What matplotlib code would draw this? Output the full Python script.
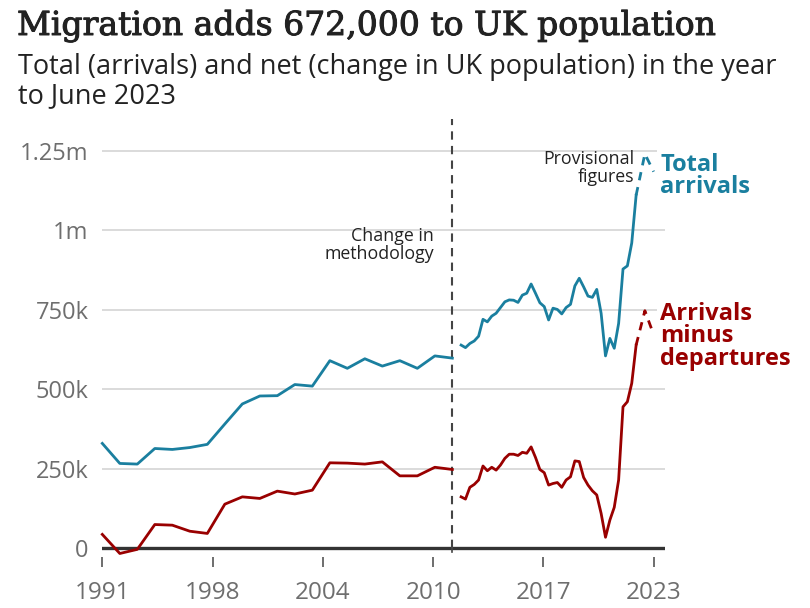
import numpy as np
import matplotlib
matplotlib.use("Agg")
import matplotlib.pyplot as plt
import matplotlib.patheffects as pe

# annual estimates (thousands), calendar years 1991-2011
years_annual = list(range(1991, 2012))
total_annual = [330, 267, 265, 314, 311, 317, 327, 391, 454, 479, 480,
                515, 510, 590, 566, 596, 573, 590, 566, 605, 598]
net_annual = [44, -16, -3, 75, 73, 54, 47, 139, 162, 157, 180,
              171, 183, 269, 268, 265, 272, 228, 228, 255, 248]

# rolling year estimates, quarterly (thousands)
total_q = [639, 631, 644, 652, 667, 720, 712, 730, 739, 757, 775, 781, 780,
           773, 796, 802, 831, 802, 772, 760, 718, 755, 751, 737, 757, 767,
           825, 849, 822, 793, 789, 814, 739, 605, 660, 629, 707, 878, 888,
           960, 1110]
net_q = [162, 155, 192, 201, 215, 259, 244, 255, 246, 262, 283, 296, 296,
         292, 302, 299, 319, 286, 248, 238, 199, 204, 207, 192, 215, 225,
         275, 273, 223, 199, 181, 168, 110, 35, 89, 129, 215, 445, 461,
         519, 639]

# provisional figures
total_prov = [1110, 1240, 1184]
net_prov = [639, 747, 672]

tick_labels = ["1991", "1998", "2004", "2010", "2017", "2023"]
y_ticks = [0, 250, 500, 750, 1000, 1250]
y_labels = ["0", "250k", "500k", "750k", "1m", "1.25m"]

x_q = 2011.5 + 0.25 * np.arange(len(total_q))
x_prov = [x_q[-1], x_q[-1] + 0.5, x_q[-1] + 1.0]

TEAL = "#1a7f9f"
RED = "#990000"
GREY = "#6e6e6e"
DARK = "#222222"

fig = plt.figure(figsize=(8.1, 6.08), dpi=100)
ax = fig.add_axes([0.1263, 0.0839, 0.6947, 0.7206])

lw = 2.0
ax.plot(years_annual, total_annual, color=TEAL, lw=lw, clip_on=False, zorder=3)
ax.plot(years_annual, net_annual, color=RED, lw=lw, clip_on=False, zorder=3)
ax.plot(x_q, total_q, color=TEAL, lw=lw, clip_on=False, zorder=3)
ax.plot(x_q, net_q, color=RED, lw=lw, clip_on=False, zorder=3)
ax.plot(x_prov, total_prov, color=TEAL, lw=lw, ls=(0, (3, 2.5)), clip_on=False, zorder=3)
ax.plot(x_prov, net_prov, color=RED, lw=lw, ls=(0, (3, 2.5)), clip_on=False, zorder=3)

ax.set_xlim(1991, 2023.15)
ax.set_ylim(-27, 1350)

for y in y_ticks[1:]:
    ax.axhline(y, color="#d4d4d4", lw=1.2, zorder=1)
ax.axhline(0, color="#333333", lw=2.4, zorder=2)

# change in methodology
ax.vlines(2011, 0, 1350, colors="#444444", lw=1.5, linestyles=(0, (4, 3)), zorder=2)
ax.plot([2011, 2011], [0, -12], color="#444444", lw=1.2, zorder=2)

for s in ax.spines.values():
    s.set_visible(False)

ax.set_yticks(y_ticks)
ax.set_yticklabels(y_labels)
ax.set_xticks(np.linspace(1991, 2022.5, 6))
ax.set_xticklabels(tick_labels)
ax.tick_params(axis="y", length=0, pad=10, labelsize=17, labelcolor=GREY)
ax.tick_params(axis="x", length=7, width=1.2, color="#555555", pad=10,
               labelsize=17.5, labelcolor=GREY)
for t in ax.get_xticklabels() + ax.get_yticklabels():
    t.set_fontfamily("Open Sans")

ax.text(2009.95, 1010, "Change in\nmethodology", ha="right", va="top",
        fontsize=12.8, color=DARK, fontfamily="Open Sans", linespacing=1.0)
ax.text(2021.38, 1252, "Provisional\nfigures", ha="right", va="top",
        fontsize=12.8, color=DARK, fontfamily="Open Sans", linespacing=1.0)

ax.text(2022.87, 1243, "Total\narrivals",
        ha="left", va="top", fontsize=17, fontweight="bold", color=TEAL,
        fontfamily="Open Sans", linespacing=0.92,
        bbox=dict(fc="white", ec="none", pad=2), clip_on=False)
ax.text(2022.87, 775, "Arrivals\nminus\ndepartures",
        ha="left", va="top", fontsize=17, fontweight="bold", color=RED,
        fontfamily="Open Sans", linespacing=0.92,
        bbox=dict(fc="white", ec="none", pad=2), clip_on=False)

title = fig.text(0.021, 1 - 35 / 608, "Migration adds 672,000 to UK population",
                 ha="left", va="baseline", fontsize=23.8,
                 color=DARK, fontfamily="DejaVu Serif")
title.set_path_effects([pe.withStroke(linewidth=0.7, foreground=DARK)])
fig.text(0.022, 1 - 74 / 608,
         "Total (arrivals) and net (change in UK population) in the year",
         ha="left", va="baseline", fontsize=19.5, color=DARK, fontfamily="Open Sans")
fig.text(0.022, 1 - 103 / 608, "to June 2023",
         ha="left", va="baseline", fontsize=19.5, color=DARK, fontfamily="Open Sans")

fig.savefig("out.png", dpi=100, facecolor="white")
